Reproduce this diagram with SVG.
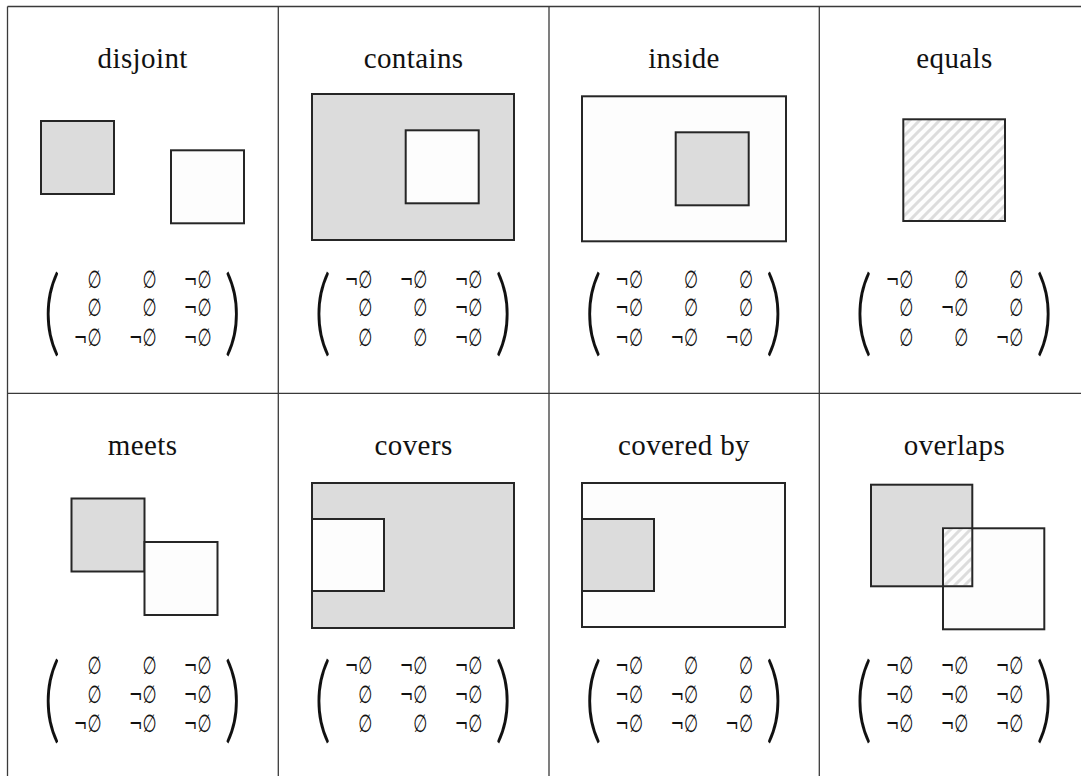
<svg xmlns="http://www.w3.org/2000/svg" width="1081" height="776" viewBox="0 0 1081 776">
  <style>
    .title { font-family: "Liberation Serif", "DejaVu Serif", serif; font-size: 29px; letter-spacing: 0.4px; fill: #111; text-anchor: middle; }
    .ent { font-family: "DejaVu Sans", sans-serif; font-size: 24.5px; fill: #111; text-anchor: end; }
    .par { font-family: Lato, "DejaVu Sans", sans-serif; font-weight: 300; font-size: 62px; fill: #111; }
    .grid line { stroke: #3a3a3a; stroke-width: 1.3; }
    .a { fill: #dcdcdc; stroke: #262626; stroke-width: 2; }
    .b { fill: #fdfdfd; stroke: #262626; stroke-width: 2; }
    .h { fill: url(#hatch); stroke: #262626; stroke-width: 2; }
    .hn { fill: url(#hatch); stroke: none; }
  </style>
  <defs>
    <!-- light diagonal hatching for the shared interior -->
    <pattern id="hatch" patternUnits="userSpaceOnUse" width="10" height="10">
      <rect width="10" height="10" fill="#fdfdfd"/>
      <path d="M-1,11 L11,-1 M-3,3 L3,-3 M7,13 L13,7" stroke="#dcdcdc" stroke-width="3"/>
    </pattern>
  </defs>

  <!-- table rules -->
  <g id="connectors" class="grid">
    <line x1="7.5" y1="6.5" x2="1081" y2="6.5"/>
    <line x1="7.5" y1="393.3" x2="1081" y2="393.3"/>
    <line x1="7.5" y1="6.5" x2="7.5" y2="776"/>
    <line x1="278.3" y1="6.5" x2="278.3" y2="776"/>
    <line x1="549" y1="6.5" x2="549" y2="776"/>
    <line x1="819.3" y1="6.5" x2="819.3" y2="776"/>
  </g>

  <!-- disjoint -->
  <g id="disjoint">
    <text class="title" x="142.7" y="68">disjoint</text>
    <rect class="a" x="41" y="121" width="73" height="73"/>
    <rect class="b" x="171" y="150.3" width="73" height="73"/>
    <g transform="translate(7.5 287.6)">
      <text class="par" transform="translate(35.5 56.5) scale(1.1 1.54)">(</text>
      <text class="par" transform="translate(216.5 56.5) scale(1.1 1.54)">)</text>
      <g transform="scale(0.66 1)">
        <text class="ent"><tspan x="142.4" y="0">∅</tspan><tspan x="225.8" y="0">∅</tspan><tspan x="309.1" y="0">¬∅</tspan><tspan x="142.4" y="28.6">∅</tspan><tspan x="225.8" y="28.6">∅</tspan><tspan x="309.1" y="28.6">¬∅</tspan><tspan x="142.4" y="58.3">¬∅</tspan><tspan x="225.8" y="58.3">¬∅</tspan><tspan x="309.1" y="58.3">¬∅</tspan></text>
      </g>
    </g>
  </g>

  <!-- contains -->
  <g id="contains">
    <text class="title" x="413.6" y="68">contains</text>
    <rect class="a" x="312" y="94" width="202" height="146"/>
    <rect class="b" x="405.7" y="130.3" width="73" height="73"/>
    <g transform="translate(278.3 287.6)">
      <text class="par" transform="translate(35.5 56.5) scale(1.1 1.54)">(</text>
      <text class="par" transform="translate(216.5 56.5) scale(1.1 1.54)">)</text>
      <g transform="scale(0.66 1)">
        <text class="ent"><tspan x="142.4" y="0">¬∅</tspan><tspan x="225.8" y="0">¬∅</tspan><tspan x="309.1" y="0">¬∅</tspan><tspan x="142.4" y="28.6">∅</tspan><tspan x="225.8" y="28.6">∅</tspan><tspan x="309.1" y="28.6">¬∅</tspan><tspan x="142.4" y="58.3">∅</tspan><tspan x="225.8" y="58.3">∅</tspan><tspan x="309.1" y="58.3">¬∅</tspan></text>
      </g>
    </g>
  </g>

  <!-- inside -->
  <g id="inside">
    <text class="title" x="684" y="68">inside</text>
    <rect class="b" x="582" y="96.3" width="204" height="145"/>
    <rect class="a" x="675.7" y="132.3" width="73" height="73"/>
    <g transform="translate(549 287.6)">
      <text class="par" transform="translate(35.5 56.5) scale(1.1 1.54)">(</text>
      <text class="par" transform="translate(216.5 56.5) scale(1.1 1.54)">)</text>
      <g transform="scale(0.66 1)">
        <text class="ent"><tspan x="142.4" y="0">¬∅</tspan><tspan x="225.8" y="0">∅</tspan><tspan x="309.1" y="0">∅</tspan><tspan x="142.4" y="28.6">¬∅</tspan><tspan x="225.8" y="28.6">∅</tspan><tspan x="309.1" y="28.6">∅</tspan><tspan x="142.4" y="58.3">¬∅</tspan><tspan x="225.8" y="58.3">¬∅</tspan><tspan x="309.1" y="58.3">¬∅</tspan></text>
      </g>
    </g>
  </g>

  <!-- equals -->
  <g id="equals">
    <text class="title" x="954.5" y="68">equals</text>
    <rect class="h" x="903.3" y="119.3" width="101.7" height="101.7"/>
    <g transform="translate(819.3 287.6)">
      <text class="par" transform="translate(35.5 56.5) scale(1.1 1.54)">(</text>
      <text class="par" transform="translate(216.5 56.5) scale(1.1 1.54)">)</text>
      <g transform="scale(0.66 1)">
        <text class="ent"><tspan x="142.4" y="0">¬∅</tspan><tspan x="225.8" y="0">∅</tspan><tspan x="309.1" y="0">∅</tspan><tspan x="142.4" y="28.6">∅</tspan><tspan x="225.8" y="28.6">¬∅</tspan><tspan x="309.1" y="28.6">∅</tspan><tspan x="142.4" y="58.3">∅</tspan><tspan x="225.8" y="58.3">∅</tspan><tspan x="309.1" y="58.3">¬∅</tspan></text>
      </g>
    </g>
  </g>

  <!-- meets -->
  <g id="meets">
    <text class="title" x="142.7" y="454.5">meets</text>
    <rect class="a" x="71.5" y="498.5" width="73" height="73"/>
    <rect class="b" x="144.5" y="542" width="73" height="73"/>
    <g transform="translate(7.5 674.1)">
      <text class="par" transform="translate(35.5 56.5) scale(1.1 1.54)">(</text>
      <text class="par" transform="translate(216.5 56.5) scale(1.1 1.54)">)</text>
      <g transform="scale(0.66 1)">
        <text class="ent"><tspan x="142.4" y="0">∅</tspan><tspan x="225.8" y="0">∅</tspan><tspan x="309.1" y="0">¬∅</tspan><tspan x="142.4" y="28.6">∅</tspan><tspan x="225.8" y="28.6">¬∅</tspan><tspan x="309.1" y="28.6">¬∅</tspan><tspan x="142.4" y="58.3">¬∅</tspan><tspan x="225.8" y="58.3">¬∅</tspan><tspan x="309.1" y="58.3">¬∅</tspan></text>
      </g>
    </g>
  </g>

  <!-- covers -->
  <g id="covers">
    <text class="title" x="413.6" y="454.5">covers</text>
    <rect class="a" x="312" y="483" width="202" height="145"/>
    <rect class="b" x="312" y="519" width="72" height="72"/>
    <g transform="translate(278.3 674.1)">
      <text class="par" transform="translate(35.5 56.5) scale(1.1 1.54)">(</text>
      <text class="par" transform="translate(216.5 56.5) scale(1.1 1.54)">)</text>
      <g transform="scale(0.66 1)">
        <text class="ent"><tspan x="142.4" y="0">¬∅</tspan><tspan x="225.8" y="0">¬∅</tspan><tspan x="309.1" y="0">¬∅</tspan><tspan x="142.4" y="28.6">∅</tspan><tspan x="225.8" y="28.6">¬∅</tspan><tspan x="309.1" y="28.6">¬∅</tspan><tspan x="142.4" y="58.3">∅</tspan><tspan x="225.8" y="58.3">∅</tspan><tspan x="309.1" y="58.3">¬∅</tspan></text>
      </g>
    </g>
  </g>

  <!-- covered by -->
  <g id="covered-by">
    <text class="title" x="684" y="454.5">covered by</text>
    <rect class="b" x="582" y="483" width="203" height="144"/>
    <rect class="a" x="582" y="519" width="72" height="72"/>
    <g transform="translate(549 674.1)">
      <text class="par" transform="translate(35.5 56.5) scale(1.1 1.54)">(</text>
      <text class="par" transform="translate(216.5 56.5) scale(1.1 1.54)">)</text>
      <g transform="scale(0.66 1)">
        <text class="ent"><tspan x="142.4" y="0">¬∅</tspan><tspan x="225.8" y="0">∅</tspan><tspan x="309.1" y="0">∅</tspan><tspan x="142.4" y="28.6">¬∅</tspan><tspan x="225.8" y="28.6">¬∅</tspan><tspan x="309.1" y="28.6">∅</tspan><tspan x="142.4" y="58.3">¬∅</tspan><tspan x="225.8" y="58.3">¬∅</tspan><tspan x="309.1" y="58.3">¬∅</tspan></text>
      </g>
    </g>
  </g>

  <!-- overlaps -->
  <g id="overlaps">
    <text class="title" x="954.5" y="454.5">overlaps</text>
    <rect class="a" x="871" y="484.7" width="101.3" height="101.6"/>
    <rect class="b" x="943" y="528.3" width="101.3" height="101"/>
    <rect class="hn" x="944" y="529.3" width="27.3" height="56"/>
    <path d="M972.3,528.3 V586.3 H943" fill="none" stroke="#262626" stroke-width="2"/>
    <g transform="translate(819.3 674.1)">
      <text class="par" transform="translate(35.5 56.5) scale(1.1 1.54)">(</text>
      <text class="par" transform="translate(216.5 56.5) scale(1.1 1.54)">)</text>
      <g transform="scale(0.66 1)">
        <text class="ent"><tspan x="142.4" y="0">¬∅</tspan><tspan x="225.8" y="0">¬∅</tspan><tspan x="309.1" y="0">¬∅</tspan><tspan x="142.4" y="28.6">¬∅</tspan><tspan x="225.8" y="28.6">¬∅</tspan><tspan x="309.1" y="28.6">¬∅</tspan><tspan x="142.4" y="58.3">¬∅</tspan><tspan x="225.8" y="58.3">¬∅</tspan><tspan x="309.1" y="58.3">¬∅</tspan></text>
      </g>
    </g>
  </g>
</svg>
